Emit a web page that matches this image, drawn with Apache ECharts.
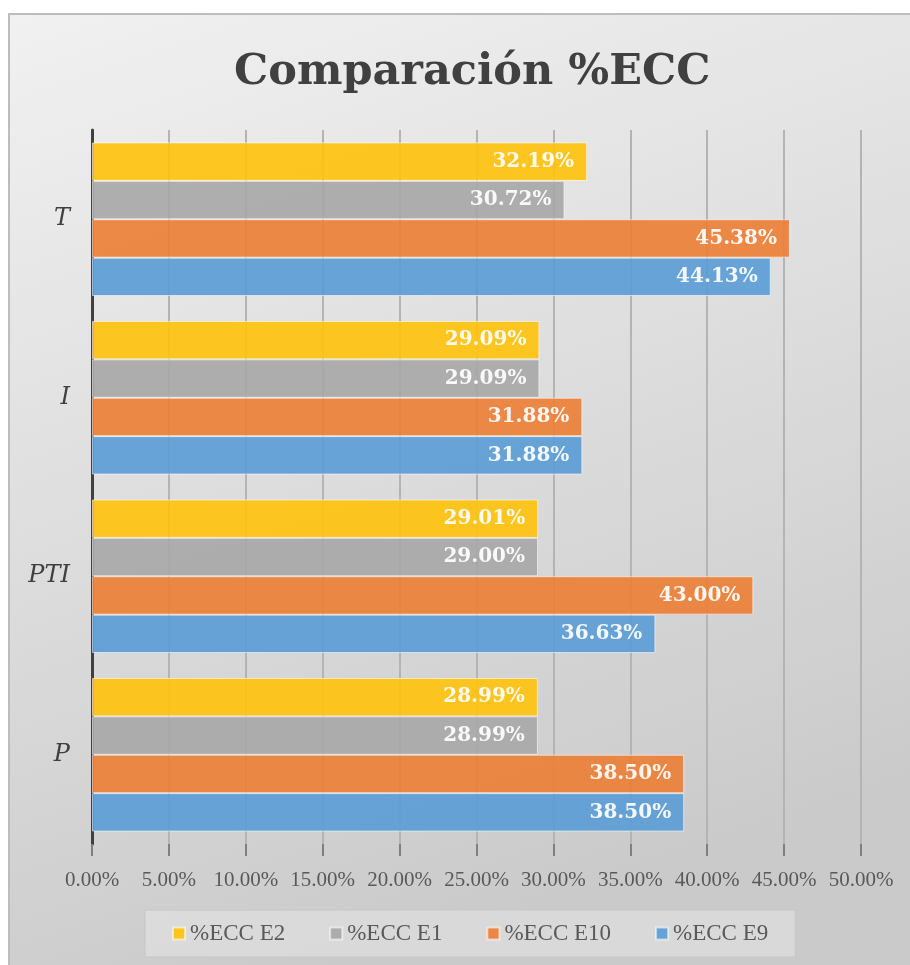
<!DOCTYPE html>
<html>
<head>
<meta charset="utf-8">
<title>Comparación %ECC</title>
<script src="https://cdn.jsdelivr.net/npm/echarts@6/dist/echarts.min.js"></script>
<style>
  html, body { margin: 0; padding: 0; background: #fff; }
  #chart { width: 910px; height: 965px; }
</style>
</head>
<body>
<div id="chart"></div>
<script>
// categories, bottom to top on the y axis
const categories = ['P', 'PTI', 'I', 'T'];

// series values (percent), same order as categories
const ecc_e2 = [28.99, 29.01, 29.09, 32.19];
const ecc_e1 = [28.99, 29.00, 29.09, 30.72];
const ecc_e10 = [38.50, 43.00, 31.88, 45.38];
const ecc_e9 = [38.50, 36.63, 31.88, 44.13];

const series_names = ['%ECC E2', '%ECC E1', '%ECC E10', '%ECC E9'];
const colors = ['#ffc20e', '#a8a8a8', '#ed8038', '#5c9dd6'];

const serif = '"Liberation Serif", "DejaVu Serif", serif';
const serif_bold = '"DejaVu Serif", serif';

function pct(v) {
    return v.toFixed(2) + '%';
}

function bar_series(name, values, color) {
    return {
        name: name,
        type: 'bar',
        data: values,
        barGap: '0%',
        barCategoryGap: '14%',
        itemStyle: {
            color: color,
            opacity: 0.92,
            borderColor: 'rgba(255,255,255,0.6)',
            borderWidth: 1
        },
        label: {
            show: true,
            position: 'insideRight',
            distance: 13,
            color: '#fff',
            fontFamily: serif_bold,
            fontWeight: 'bold',
            fontSize: 20,
            formatter: p => pct(p.value)
        }
    };
}

const chart = echarts.init(document.getElementById('chart'));

chart.setOption({
    backgroundColor: '#fff',
    animation: false,
    color: colors,
    graphic: [
        {
            type: 'rect',
            z: -10,
            shape: { x: 9, y: 14, width: 920, height: 970 },
            style: {
                fill: {
                    type: 'linear', x: 0, y: 0, x2: 0.35, y2: 1,
                    colorStops: [
                        { offset: 0, color: '#f1f1f1' },
                        { offset: 1, color: '#cacaca' }
                    ]
                },
                stroke: '#bdbdbd',
                lineWidth: 2
            }
        }
    ],
    title: {
        text: 'Comparación %ECC',
        left: 229,
        top: 46,
        textStyle: {
            fontFamily: serif_bold,
            fontWeight: 'bold',
            fontSize: 43,
            color: '#404040'
        }
    },
    legend: {
        data: series_names,
        left: 145,
        top: 910,
        icon: 'rect',
        itemWidth: 12,
        itemHeight: 12,
        itemGap: 44,
        padding: [12, 27],
        backgroundColor: 'rgba(235,235,235,0.45)',
        borderColor: '#c6c6c6',
        borderWidth: 1,
        textStyle: {
            fontFamily: serif,
            fontSize: 23,
            color: '#595959'
        }
    },
    grid: {
        left: 92,
        right: 49,
        top: 130,
        height: 714,
        containLabel: false
    },
    xAxis: {
        type: 'value',
        min: 0,
        max: 50,
        interval: 5,
        axisLine: { show: false },
        axisTick: {
            show: true,
            length: 12,
            lineStyle: { color: '#7f7f7f', width: 2 }
        },
        splitLine: {
            show: true,
            lineStyle: { color: '#b4b4b4', width: 2 }
        },
        axisLabel: {
            margin: 26,
            fontFamily: serif,
            fontSize: 21,
            color: '#595959',
            formatter: v => pct(v)
        }
    },
    yAxis: {
        type: 'category',
        data: categories,
        axisLine: {
            show: true,
            lineStyle: { color: '#404040', width: 3 }
        },
        axisTick: { show: false },
        axisLabel: {
            margin: 22,
            fontFamily: serif_bold,
            fontStyle: 'italic',
            fontSize: 24,
            color: '#404040'
        }
    },
    series: [
        bar_series(series_names[0], ecc_e2, colors[0]),
        bar_series(series_names[1], ecc_e1, colors[1]),
        bar_series(series_names[2], ecc_e10, colors[2]),
        bar_series(series_names[3], ecc_e9, colors[3])
    ]
});
</script>
</body>
</html>
